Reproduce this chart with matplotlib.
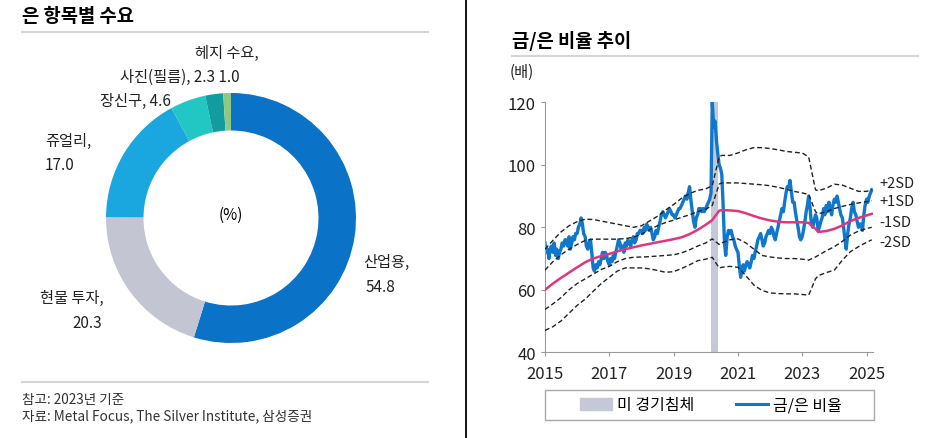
import numpy as np
import pandas as pd
import matplotlib
matplotlib.use('Agg')
import matplotlib.pyplot as plt
import matplotlib.dates as mdates
from matplotlib.lines import Line2D
from matplotlib.patches import Patch, Rectangle

plt.rcParams['font.family'] = ['Noto Sans CJK KR', 'DejaVu Sans']

# 은 항목별 수요 (2023년, %)
demand_labels = ['산업용', '현물 투자', '쥬얼리', '장신구', '사진(필름)', '헤지 수요']
demand_values = [54.8, 20.3, 17.0, 4.6, 2.3, 1.0]
demand_colors = ['#0b73c7', '#c3c6d2', '#1aa6df', '#22c6c2', '#139c9f', '#8dc983']

# 금/은 비율 (반월 단위, 2015-01-01 ~ 2025-03-01)
ratio_values = [
    75, 72, 73, 70, 73, 74, 72, 75, 71, 73, 70, 72, 73, 75, 74, 76, 76, 74, 77, 73, 75, 77, 76, 78,  # 2015
    78, 80, 81, 83, 81, 78, 77, 74, 73, 75, 76, 72, 67, 66, 68, 67, 69, 68, 70, 72, 70, 72, 71, 69,  # 2016
    68, 70, 69, 71, 70, 72, 74, 76, 75, 73, 74, 72, 75, 74, 76, 75, 74, 76, 77, 75, 76, 78, 78, 79,  # 2017
    79, 78, 80, 79, 81, 80, 79, 80, 78, 76, 77, 79, 78, 80, 82, 84, 85, 84, 83, 84, 85, 86, 85, 84,  # 2018
    84, 83, 84, 85, 86, 86, 87, 88, 89, 90, 89, 91, 93, 89, 85, 82, 80, 83, 84, 86, 86, 85, 86, 85,  # 2019
    86, 87, 88, 89, 91, 120, 112, 114, 108, 104, 100, 99, 97, 88, 75, 71, 77, 79, 78, 79, 77, 76, 74, 73,  # 2020
    72, 68, 64, 66, 68, 66, 68, 69, 68, 67, 69, 71, 70, 72, 74, 76, 77, 78, 76, 74, 75, 77, 78, 79,  # 2021
    78, 80, 79, 77, 76, 78, 80, 82, 84, 86, 85, 88, 91, 93, 93, 95, 91, 88, 88, 85, 82, 80, 77, 76,  # 2022
    77, 79, 82, 85, 87, 90, 86, 81, 80, 82, 84, 83, 79, 80, 82, 83, 86, 84, 87, 85, 88, 86, 84, 87,  # 2023
    89, 88, 90, 88, 86, 84, 83, 80, 76, 73, 78, 81, 83, 86, 88, 85, 84, 82, 80, 81, 81, 79, 84, 87,  # 2024
    89, 88, 90, 91, 92,  # 2025
]
ratio_dates = pd.date_range('2015-01-01', periods=len(ratio_values), freq='SMS')

# 평균 및 표준편차 밴드
band_dates = pd.to_datetime([
    '2015-01-01', '2015-04-01', '2015-07-01', '2015-10-01',
    '2016-01-01', '2016-04-01', '2016-07-01', '2016-10-01',
    '2017-01-01', '2017-04-01', '2017-07-01', '2017-10-01',
    '2018-01-01', '2018-04-01', '2018-07-01', '2018-10-01',
    '2019-01-01', '2019-04-01', '2019-07-01', '2019-10-01',
    '2020-01-01', '2020-03-15', '2020-06-01', '2020-07-01', '2020-10-01',
    '2021-01-01', '2021-04-01', '2021-07-01', '2021-10-01',
    '2022-01-01', '2022-04-01', '2022-07-01', '2022-10-01',
    '2023-01-01', '2023-03-15', '2023-06-01', '2023-07-01', '2023-10-01',
    '2024-01-01', '2024-04-01', '2024-07-01', '2024-10-01',
    '2025-01-01', '2025-03-01',
])
band_mean = [60, 62, 63.8, 65.5, 67.2, 68.8, 70, 70.8, 71.5, 72.3, 73, 73.6,
             74.2, 74.7, 75.2, 75.7, 76.2, 76.8, 77.8, 79.2,
             80.8, 82.3, 85.3, 85.5, 85.4, 85.2, 84.5, 83.6, 82.8,
             82.2, 81.8, 81.6, 81.6, 81.6, 81.4, 79.5, 78.5, 78.8,
             79.5, 80.6, 82, 83, 83.8, 84.3]
band_p1 = [66.3, 69, 71.2, 73, 74.5, 75.8, 76.2, 76.2, 76.2, 76.2, 76.4, 76.8,
           77.8, 79.2, 80.5, 81.5, 82.3, 83.2, 84, 85,
           85.8, 87, 93.8, 94.2, 94.2, 94.2, 94, 93.8, 93.6,
           93.3, 92.8, 92.2, 91.5, 91, 90.5, 85, 84.3, 85,
           86, 86.7, 87.3, 87.8, 88.2, 88.5]
band_p2 = [73, 75.8, 78.5, 80.5, 81.8, 82.6, 82.5, 82, 81.5, 81, 80.5, 80,
           80.5, 82, 83.5, 85.5, 87.3, 89.3, 90.8, 91.8,
           92.3, 93.3, 102.5, 103, 103, 103.8, 104.8, 105.5, 105.5,
           105.2, 104.8, 104.3, 104, 103.8, 102.5, 92, 91.7, 92.5,
           93.8, 93.5, 92.5, 91.5, 91.5, 92]
band_m1 = [53.7, 55.5, 57.5, 60, 62, 63.5, 65, 66.5, 67.5, 69, 70, 70.4,
           70.5, 70.6, 70.8, 71, 71.2, 71.8, 72.8, 74,
           75, 76.3, 74.5, 75, 76, 76.3, 75, 73, 71,
           70.5, 70.2, 70, 70, 69.8, 69.5, 70.5, 71, 72.5,
           73.8, 75.5, 77.5, 78.8, 79.6, 80]
band_m2 = [47, 48.2, 50, 52.5, 55, 57, 59.5, 62, 64, 66, 67, 67,
           67, 66.7, 66.2, 65.6, 65.8, 66.8, 68, 69.3,
           69.8, 70.4, 67, 67.2, 67.5, 67.2, 64.5, 61.5, 59.8,
           59, 58.8, 58.7, 58.7, 58.5, 58.3, 63.5, 64.5, 65.5,
           66.3, 69.5, 72.2, 73.8, 75.2, 76]

recession_start = pd.Timestamp('2020-03-01')
recession_end = pd.Timestamp('2020-05-20')

W, H = 937, 439
fig = plt.figure(figsize=(W / 100, H / 100), dpi=100)


def fx(px):
    return px / W


def fy(py):
    return 1 - py / H


# ---- 레이아웃 선 / 제목 ----
fig.add_artist(Line2D([fx(466), fx(466)], [0, 1], color='black', lw=1.3))
fig.add_artist(Line2D([fx(22), fx(428)], [fy(33), fy(33)], color='#d5d5d5', lw=1.5))
fig.add_artist(Line2D([fx(22), fx(428)], [fy(383), fy(383)], color='#d5d5d5', lw=1.5))
fig.add_artist(Line2D([fx(512), fx(918)], [fy(57), fy(57)], color='#d5d5d5', lw=1.5))

fig.text(fx(22), fy(17), '은 항목별 수요', fontsize=13.5, fontweight='bold', va='center')
fig.text(fx(512), fy(41), '금/은 비율 추이', fontsize=13.5, fontweight='bold', va='center')

fig.text(fx(22), fy(400), '참고: 2023년 기준', fontsize=9.8, va='center', color='#333333')
fig.text(fx(22), fy(416), '자료: Metal Focus, The Silver Institute, 삼성증권', fontsize=9.8,
         va='center', color='#333333')

# ---- 도넛 차트 ----
ax1 = fig.add_axes([fx(106), fy(344), 250 / W, 250 / H])
ax1.pie(demand_values, colors=demand_colors, startangle=90, counterclock=False,
        wedgeprops=dict(width=0.3, linewidth=0))
ax1.set_xlim(-1, 1)
ax1.set_ylim(-1, 1)
ax1.text(0, 0.03, '(%)', ha='center', va='center', fontsize=11)

lab_kw = dict(fontsize=11, va='center', color='#222222')
fig.text(fx(227), fy(53), f'{demand_labels[5]},', ha='center', **lab_kw)
fig.text(fx(240), fy(77), f'{demand_labels[4]}, {demand_values[4]} {demand_values[5]}', ha='right', **lab_kw)
fig.text(fx(171), fy(101), f'{demand_labels[3]}, {demand_values[3]}', ha='right', **lab_kw)
fig.text(fx(45), fy(141), f'{demand_labels[2]},', ha='left', **lab_kw)
fig.text(fx(45), fy(166), f'{demand_values[2]}', ha='left', **lab_kw)
fig.text(fx(40), fy(298), f'{demand_labels[1]},', ha='left', **lab_kw)
fig.text(fx(72), fy(324), f'{demand_values[1]}', ha='left', **lab_kw)
fig.text(fx(363), fy(262), f'{demand_labels[0]},', ha='left', **lab_kw)
fig.text(fx(366), fy(288), f'{demand_values[0]}', ha='left', **lab_kw)

# ---- 금/은 비율 ----
ax2 = fig.add_axes([fx(545), fy(353.3), (873 - 545) / W, (353.3 - 103.3) / H])
ax2.axvspan(recession_start, recession_end, color='#c5c8d6', lw=0, zorder=1)
ax2.plot(ratio_dates, ratio_values, color='#1078cc', lw=2.4, zorder=2)
ax2.plot(band_dates, band_mean, color='#e2357c', lw=1.8, zorder=3)
for band in [band_p2, band_p1, band_m1, band_m2]:
    ax2.plot(band_dates, band, color='#222222', lw=1.0, ls=(0, (3.5, 2)), zorder=4)

ax2.set_xlim(pd.Timestamp('2015-01-01'), pd.Timestamp('2025-03-15'))
ax2.set_ylim(40, 120)
ax2.set_yticks([40, 60, 80, 100, 120])
ax2.set_xticks([pd.Timestamp(f'{y}-01-01') for y in range(2015, 2026, 2)])
ax2.xaxis.set_major_formatter(mdates.DateFormatter('%Y'))
for s in ['top', 'right']:
    ax2.spines[s].set_visible(False)
for s in ['left', 'bottom']:
    ax2.spines[s].set_color('#9a9a9a')
ax2.tick_params(axis='both', colors='#9a9a9a', labelcolor='#222222', labelsize=12, length=3)
ax2.tick_params(axis='x', pad=6)

sd_x = pd.Timestamp('2025-06-01')
for yv, txt in [(94.2, '+2SD'), (88.4, '+1SD'), (81.6, '-1SD'), (75.3, '-2SD')]:
    ax2.text(sd_x, yv, txt, fontsize=10.5, va='center', ha='left', clip_on=False, color='#222222')

fig.text(fx(510), fy(72), '(배)', fontsize=11, va='center', color='#222222')

# 범례
fig.add_artist(Rectangle((fx(545), fy(421)), (874 - 545) / W, 30 / H,
                         fill=False, edgecolor='#a8a8a8', lw=1.0))
handles = [Patch(color='#c5c8d6'), Line2D([0], [0], color='#1078cc', lw=2.2)]
fig.legend(handles, ['미 경기침체', '금/은 비율'], loc='center', bbox_to_anchor=(fx(711), fy(406)),
           ncol=2, frameon=False, fontsize=11.5, handlelength=2.0, handletextpad=0.3,
           columnspacing=2.6, borderpad=0.2)

fig.savefig('out.png', dpi=100)
